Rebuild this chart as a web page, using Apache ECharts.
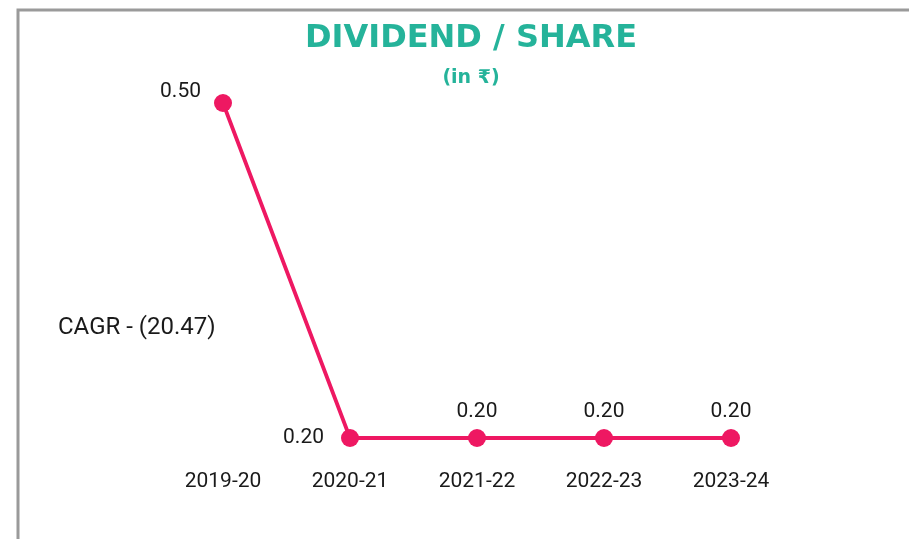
<!DOCTYPE html>
<html>
<head>
<meta charset="utf-8">
<script src="https://cdn.jsdelivr.net/npm/echarts@6/dist/echarts.min.js"></script>
<style>
html,body{margin:0;padding:0;background:#fff;}
#c{width:909px;height:539px;}
</style>
</head>
<body>
<div id="c"></div>
<script>
const categories = ['2019-20', '2020-21', '2021-22', '2022-23', '2023-24'];
const dividend = [0.50, 0.20, 0.20, 0.20, 0.20];
const labelPos = ['left', 'left', 'top', 'top', 'top'];
const cagrText = 'CAGR - (20.47)';
const titleText = 'DIVIDEND / SHARE';
const subText = '(in ₹)';

const chart = echarts.init(document.getElementById('c'), null, {renderer: 'canvas'});
const txt = '#1a1a1a';
const pink = '#EE1862';
const teal = '#25B39A';

chart.setOption({
  animation: false,
  backgroundColor: '#ffffff',
  title: {
    text: titleText,
    subtext: subText,
    left: 466,
    textAlign: 'center',
    top: 18,
    itemGap: 14,
    textStyle: {fontFamily: 'DejaVu Sans', fontWeight: 'bold', fontSize: 32, color: teal},
    subtextStyle: {fontFamily: 'DejaVu Sans', fontWeight: 'bold', fontSize: 19, color: teal}
  },
  graphic: [
    {type: 'rect', shape: {x: 18, y: 10, width: 1000, height: 1000},
     style: {fill: 'none', stroke: '#9a9a9a', lineWidth: 3}, silent: true, z: 0},
    {type: 'text', left: 58, top: 316,
     style: {text: cagrText, fontFamily: 'Roboto', fontSize: 24, fill: txt}}
  ],
  grid: {left: 223, right: 178, top: 103, bottom: 101},
  xAxis: {
    type: 'category',
    data: categories,
    boundaryGap: false,
    axisLine: {show: false},
    axisTick: {show: false},
    splitLine: {show: false},
    axisLabel: {margin: 33, fontFamily: 'Roboto', fontSize: 21, color: txt}
  },
  yAxis: {
    type: 'value',
    min: 0.2,
    max: 0.5,
    show: false
  },
  series: [{
    type: 'line',
    data: dividend.map((v, i) => ({
      value: v,
      label: {
        position: labelPos[i],
        offset: i === 0 ? [0, -11] : [0, 0],
        distance: i === 0 ? 13 : (i === 1 ? 17 : 7)
      }
    })),
    symbol: 'circle',
    symbolSize: 18,
    lineStyle: {color: pink, width: 3.8},
    itemStyle: {color: pink},
    label: {
      show: true,
      fontFamily: 'Roboto',
      fontSize: 21,
      color: txt,
      formatter: p => p.value.toFixed(2)
    }
  }]
});
</script>
</body>
</html>
